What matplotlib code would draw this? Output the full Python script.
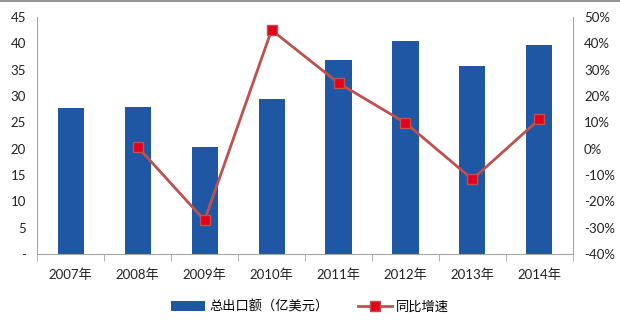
import numpy as np
import matplotlib
matplotlib.use('Agg')
import matplotlib.pyplot as plt
from matplotlib.ticker import FuncFormatter

plt.rcParams['font.family'] = ['Lato', 'Noto Sans CJK SC', 'DejaVu Sans']

years = ['2007年', '2008年', '2009年', '2010年', '2011年', '2012年', '2013年', '2014年']
export_total = [27.7, 27.9, 20.3, 29.4, 36.8, 40.4, 35.7, 39.7]
growth_years = ['2008年', '2009年', '2010年', '2011年', '2012年', '2013年', '2014年']
growth = [0.7, -27.2, 45.0, 24.9, 9.8, -11.6, 11.2]

bar_col = '#1F57A5'
line_col = '#C0504D'
marker_col = '#E3001B'
axis_col = '#A6A6A6'

fig = plt.figure(figsize=(6.2, 3.25), dpi=100)
ax = fig.add_axes([0.06, 0.218, 0.864, 0.73])
x = np.arange(len(years))
bars = ax.bar(x, export_total, width=0.39, color=bar_col, zorder=2, label='总出口额（亿美元）')
ax.set_xlim(-0.5, len(years) - 0.5)
ax.set_ylim(0, 45)
ax.set_yticks(np.arange(0, 46, 5))
ax.yaxis.set_major_formatter(FuncFormatter(lambda v, p: '-' if v == 0 else '%d' % v))
ax.set_xticks(x)
ax.set_xticklabels(years)
ax.set_xticks(np.arange(-0.5, len(years), 1), minor=True)
ax.tick_params(axis='x', which='major', length=0, pad=10)
ax.tick_params(axis='x', which='minor', length=5, color=axis_col, direction='out')
ax.tick_params(axis='y', length=0, pad=8)
ax.tick_params(labelsize=9.5, labelcolor='#222222')
for s in ['top', 'right']:
    ax.spines[s].set_visible(False)
for s in ['left', 'bottom']:
    ax.spines[s].set_color(axis_col)

ax2 = ax.twinx()
gx = [years.index(g) for g in growth_years]
ln, = ax2.plot(gx, growth, color=line_col, lw=2, marker='s', ms=7.5,
               mfc=marker_col, mec=line_col, mew=1, zorder=3, label='同比增速')
ax2.set_ylim(-40, 50)
ax2.set_yticks(np.arange(-40, 51, 10))
ax2.yaxis.set_major_formatter(FuncFormatter(lambda v, p: '%d%%' % v))
ax2.tick_params(axis='y', length=0, pad=8, labelsize=9.5, labelcolor='#222222')
for s in ['top', 'left', 'bottom']:
    ax2.spines[s].set_visible(False)
ax2.spines['right'].set_color(axis_col)

fig.legend([bars, ln], ['总出口额（亿美元）', '同比增速'], loc='center',
           bbox_to_anchor=(0.5, 0.058), ncol=2, frameon=False, fontsize=9.5,
           handlelength=2.6, columnspacing=2.2, handletextpad=0.3)

# thin grey rule along the top edge
fig.add_artist(plt.Line2D([0, 1], [0.998, 0.998], color='#808080', lw=1.2,
                          transform=fig.transFigure))

fig.savefig('out.png', dpi=100)
